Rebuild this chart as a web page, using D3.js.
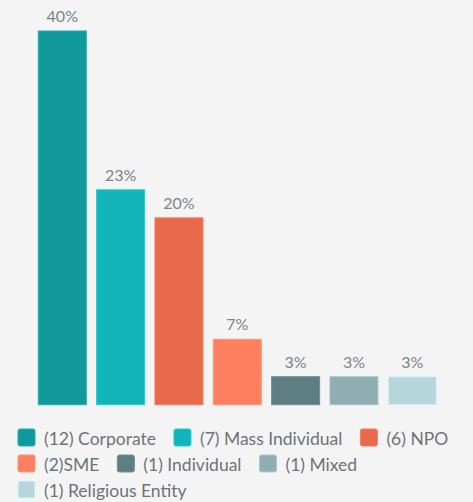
<!DOCTYPE html>
<html>
<head>
<meta charset="utf-8">
<script src="https://cdn.jsdelivr.net/npm/d3@7"></script>
<style>
  html, body { margin: 0; padding: 0; background: #f4f4f4; }
  svg { display: block; font-family: Lato, "Open Sans", sans-serif; }
</style>
</head>
<body>
<script>
var categories = ["Corporate", "Mass Individual", "NPO", "SME", "Individual", "Mixed", "Religious Entity"];
var counts = [12, 7, 6, 2, 1, 1, 1];
var percents = [40, 23, 20, 7, 3, 3, 3];
var legendLabels = ["(12) Corporate", "(7) Mass Individual", "(6) NPO", "(2)SME", "(1) Individual", "(1) Mixed", "(1) Religious Entity"];
var colors = ["#11999c", "#13b4b9", "#e8694b", "#fe8061", "#5f7e81", "#90aeb2", "#b7d6db"];

var width = 473, height = 502;

var svg = d3.select("body").append("svg")
            .attr("width", width)
            .attr("height", height);

var x = d3.scaleBand().domain(categories).range([38.3, 436.3]).paddingInner(0.177).paddingOuter(0);
var y = d3.scaleLinear().domain([0, 40]).range([404.7, 31]);
var color = d3.scaleOrdinal().domain(categories).range(colors);

var data = categories.map(function(c, i) {
    return {name: c, count: counts[i], pct: percents[i], legend: legendLabels[i]};
});

svg.append("g")
    .selectAll("rect")
    .data(data)
    .join("rect")
    .attr("x", d => x(d.name))
    .attr("y", d => y(d.pct))
    .attr("width", x.bandwidth())
    .attr("height", d => y(0) - y(d.pct))
    .attr("fill", d => color(d.name))
    .attr("stroke", d => d3.color(color(d.name)).brighter(0.4))
    .attr("stroke-width", 1);

svg.append("g")
    .selectAll("text")
    .data(data)
    .join("text")
    .attr("x", d => x(d.name) + x.bandwidth() / 2)
    .attr("y", d => y(d.pct) - 9)
    .attr("text-anchor", "middle")
    .attr("fill", "#7d8388")
    .attr("font-size", "16px")
    .text(d => d.pct + "%");

// legend, flows left to right and wraps
var legend = svg.append("g");
var lx = 18, ly = 429, maxX = 462;
data.forEach(function(d) {
    var item = legend.append("g");
    item.append("rect")
        .attr("width", 17).attr("height", 17)
        .attr("rx", 2)
        .attr("fill", color(d.name))
        .attr("stroke", d3.color(color(d.name)).brighter(0.4))
        .attr("stroke-width", 1);
    var t = item.append("text")
        .attr("x", 26)
        .attr("y", 15.5)
        .attr("fill", "#6e7378")
        .attr("font-size", "17.5px")
        .text(d.legend);
    var w = 26 + t.node().getComputedTextLength();
    if (lx + w > maxX && lx > 18) { lx = 18; ly += 26; }
    item.attr("transform", "translate(" + lx + "," + ly + ")");
    lx += w + 18;
});
</script>
</body>
</html>
